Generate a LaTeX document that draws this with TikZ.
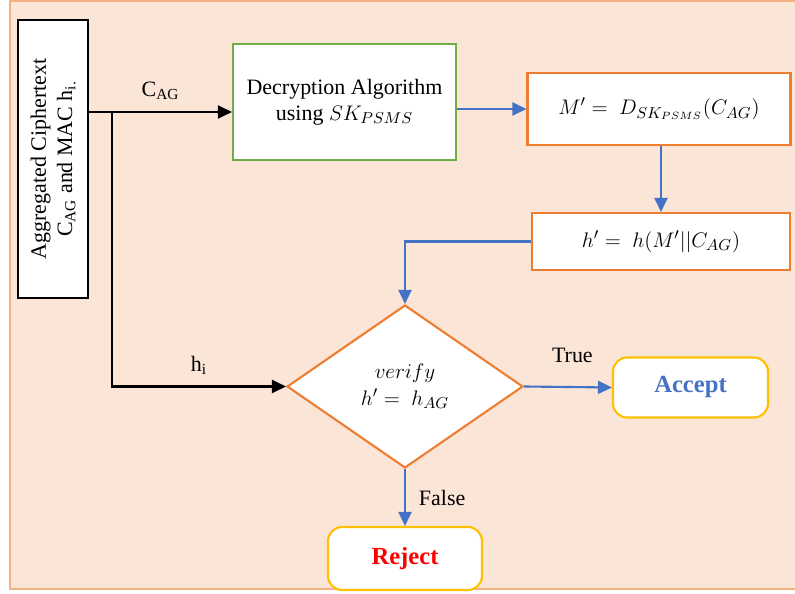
\documentclass[tikz,border=0pt]{standalone}
\usepackage{amsmath}
\usepackage{xcolor}
\usepackage{fontspec}
\setmainfont{Liberation Serif}
\usepackage{tikz}
\usetikzlibrary{arrows.meta,shapes,shapes.geometric}
\usetikzlibrary{positioning, quotes}

\definecolor{bgpeach}{HTML}{FBE5D6}
\definecolor{bgline}{HTML}{F4B183}
\definecolor{boxorange}{HTML}{ED7D31}
\definecolor{boxgreen}{HTML}{70AD47}
\definecolor{lineblue}{HTML}{4472C4}
\definecolor{boxgold}{HTML}{FFC000}

\begin{document}
\begin{tikzpicture}[x=0.02cm, y=-0.02cm,
  font=\fontsize{12.5}{15}\selectfont,
  box/.style={draw, fill=white, line width=1.2pt, align=center, inner sep=2pt},
  calc/.style={box, draw=boxorange},
  result/.style={box, draw=boxgold, rounded corners=8pt, font=\fontsize{14}{16}\selectfont\bfseries},
  blk/.style={line width=1.2pt, -{Triangle[length=0.28cm, width=0.26cm]}},
  blu/.style={draw=lineblue, line width=1.2pt, -{Triangle[length=0.28cm, width=0.26cm]}}]

\useasboundingbox (0,0) rectangle (795,594);
\path[fill=bgpeach, draw=bgline, line width=1.2pt] (10,1) rectangle (805,589);

\node[box, rotate=90, minimum width=5.56cm, minimum height=1.4cm] (src) at (53,159) {
Aggregated Ciphertext \\
C\textsubscript{AG} and MAC h\textsubscript{i.}
};

\node[box, draw=boxgreen, minimum width=4.46cm, minimum height=2.32cm] (dec) at (344.5,102) {
Decryption Algorithm \\
using $SK_{PSMS}$
};

\node[calc, minimum width=5.26cm, minimum height=1.44cm] (mp) at (659,109) {$M' =\ D_{SK_{PSMS}}(C_{AG})$};
\node[calc, minimum width=5.16cm, minimum height=1.14cm] (hp) at (661,241.5) {$h' =\ h(M'||C_{AG})$};

\node[diamond, draw=boxorange, fill=white, line width=1.2pt, inner sep=0pt, align=center,
  minimum width=4.72cm, minimum height=3.26cm] (ver) at (405,386.5) {
$verify$ \\
$h' =\ h_{AG}$
};

\node[result, text=lineblue, minimum width=3.1cm, minimum height=1.2cm] (acc) at (690.5,387.5) {Accept};
\node[result, text=red, minimum width=3.08cm, minimum height=1.26cm] (rej) at (405,558.5) {Reject};

% input splits into ciphertext and MAC
\coordinate (j) at (112,112);
\path[draw] [blk] (src.south |- j) -- node[above=3pt] {C\textsubscript{AG}} (dec.west |- j);
\path[draw] [blk] (src.south |- j) -- (j) |- node[pos=0.75, above=3pt] {h\textsubscript{i}} (ver.west);

% decryption and hash
\path[draw] [blu] (dec.east |- mp.west) -- (mp.west);
\path[draw] [blu] (mp.south -| hp.north) -- (hp.north);
\path[draw] [blu] (hp.west) -| (ver.north);

% decision
\path[draw] [blu] (ver.east) -- node[above=10pt, pos=0.55] {True} (acc.west);
\path[draw] [blu] (ver.south) -- node[right=4pt] {False} (rej.north);

\end{tikzpicture}
\end{document}
